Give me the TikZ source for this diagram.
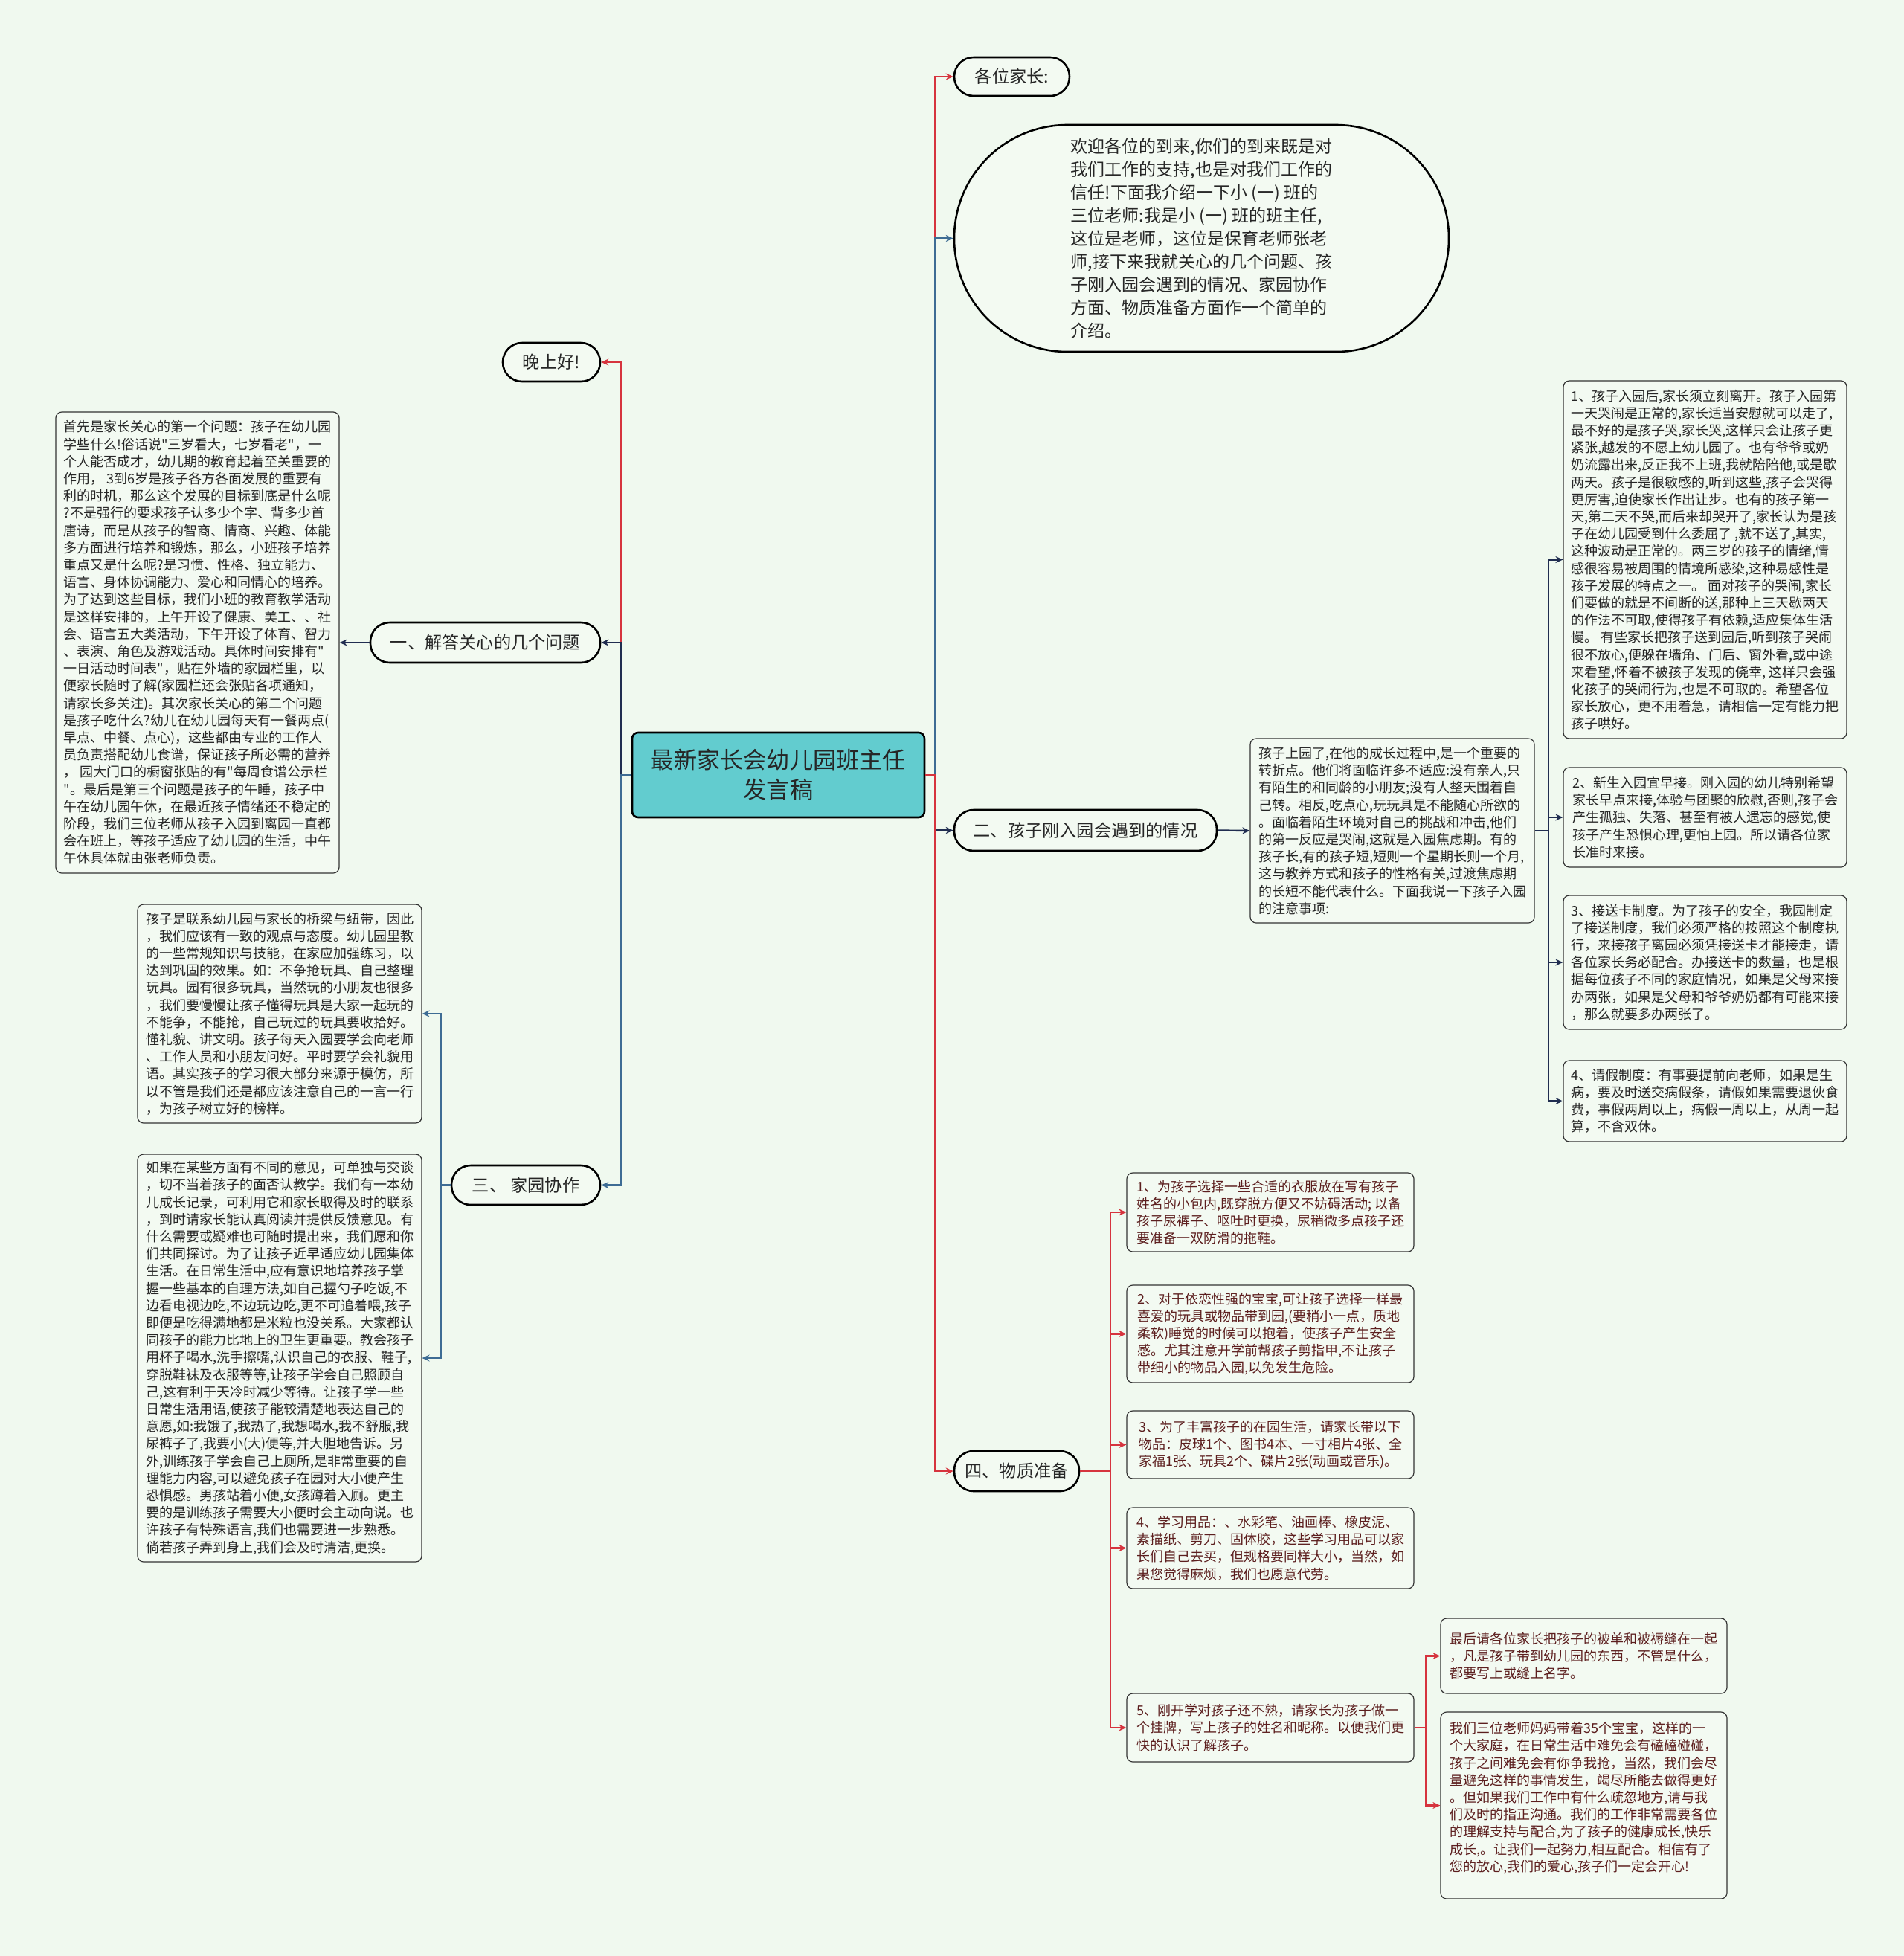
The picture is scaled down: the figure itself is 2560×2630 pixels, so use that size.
\documentclass[tikz,border=0pt]{standalone}
\usepackage{fontspec}
\newfontfamily\cjk{Noto Sans CJK SC}
\usetikzlibrary{arrows.meta}
\definecolor{bgc}{RGB}{240,249,239}
\definecolor{boxfill}{RGB}{243,250,242}
\definecolor{cred}{RGB}{214,52,62}
\definecolor{cnavy}{RGB}{32,45,80}
\definecolor{cblue}{RGB}{62,108,148}
\definecolor{ctitle}{RGB}{98,204,207}
\definecolor{cmaroon}{RGB}{92,30,30}
\begin{document}
\begin{tikzpicture}[x=0.5pt,y=-0.5pt,
  pill/.style={draw=black, line width=1.3pt, fill=boxfill, rounded corners=13pt, inner sep=0pt, align=center, text=black!85, font=\cjk\fontsize{11.6}{15}\selectfont},
  tbox/.style={draw=black!80, line width=0.6pt, fill=boxfill, rounded corners=4pt, inner sep=0pt, align=left, text=black!85, font=\cjk\fontsize{9}{11.6}\selectfont},
  mbox/.style={tbox, text=cmaroon},
  conn/.style={line width=1.2pt, -{Stealth[length=5pt,width=4.5pt]}}
]
\useasboundingbox (0,0) rectangle (2560,2630);
\fill[bgc] (0,0) rectangle (2560,2630);

% center
\node[draw=black, line width=1.3pt, fill=ctitle, rounded corners=4pt, minimum width=196.5pt, minimum height=57pt, align=center, inner sep=0pt, text=black!85, font=\cjk\fontsize{15.6}{20}\selectfont] (c) at (1046.5,1042) {最新家长会幼儿园班主任\\发言稿};

% first-level
\node[pill, minimum width=65.5pt, minimum height=26pt] (wan) at (741.5,487) {晚上好!};
\node[pill, minimum width=154.5pt, minimum height=27pt] (q1) at (652.5,864) {一、解答关心的几个问题};
\node[pill, minimum width=100pt, minimum height=26.5pt] (q3) at (707,1593.5) {三、 家园协作};
\node[pill, minimum width=77.5pt, minimum height=26pt] (gw) at (1360.5,103) {各位家长:};
\node[pill, rounded corners=76pt, minimum width=332.5pt, minimum height=152.5pt, align=left, font=\cjk\fontsize{11.5}{15.5}\selectfont] (ov) at (1615.5,320.5) {欢迎各位的到来,你们的到来既是对\\我们工作的支持,也是对我们工作的\\信任!下面我介绍一下小 (一) 班的\\三位老师:我是小 (一) 班的班主任,\\这位是老师，这位是保育老师张老\\师,接下来我就关心的几个问题、孩\\子刚入园会遇到的情况、家园协作\\方面、物质准备方面作一个简单的\\介绍。};
\node[pill, minimum width=176.5pt, minimum height=27.5pt] (q2) at (1459.5,1116.5) {二、孩子刚入园会遇到的情况};
\node[pill, minimum width=84pt, minimum height=27pt] (q4) at (1367,1978) {四、物质准备};

% left text boxes
\node[tbox, minimum width=190.5pt, minimum height=310pt] (L1) at (265.5,864) {首先是家长关心的第一个问题：孩子在幼儿园\\学些什么!俗话说"三岁看大，七岁看老"，一\\个人能否成才，幼儿期的教育起着至关重要的\\作用， 3到6岁是孩子各方各面发展的重要有\\利的时机，那么这个发展的目标到底是什么呢\\?不是强行的要求孩子认多少个字、背多少首\\唐诗，而是从孩子的智商、情商、兴趣、体能\\多方面进行培养和锻炼，那么，小班孩子培养\\重点又是什么呢?是习惯、性格、独立能力、\\语言、身体协调能力、爱心和同情心的培养。\\为了达到这些目标，我们小班的教育教学活动\\是这样安排的，上午开设了健康、美工、、社\\会、语言五大类活动，下午开设了体育、智力\\、表演、角色及游戏活动。具体时间安排有"\\一日活动时间表"，贴在外墙的家园栏里，以\\便家长随时了解(家园栏还会张贴各项通知，\\请家长多关注)。其次家长关心的第二个问题\\是孩子吃什么?幼儿在幼儿园每天有一餐两点(\\早点、中餐、点心)，这些都由专业的工作人\\员负责搭配幼儿食谱，保证孩子所必需的营养\\， 园大门口的橱窗张贴的有"每周食谱公示栏\\"。最后是第三个问题是孩子的午睡，孩子中\\午在幼儿园午休，在最近孩子情绪还不稳定的\\阶段，我们三位老师从孩子入园到离园一直都\\会在班上，等孩子适应了幼儿园的生活，中午\\午休具体就由张老师负责。};
\node[tbox, minimum width=191pt, minimum height=147pt] (L2) at (376,1363) {孩子是联系幼儿园与家长的桥梁与纽带，因此\\，我们应该有一致的观点与态度。幼儿园里教\\的一些常规知识与技能，在家应加强练习，以\\达到巩固的效果。如：不争抢玩具、自己整理\\玩具。园有很多玩具，当然玩的小朋友也很多\\，我们要慢慢让孩子懂得玩具是大家一起玩的\\不能争，不能抢，自己玩过的玩具要收拾好。\\懂礼貌、讲文明。孩子每天入园要学会向老师\\、工作人员和小朋友问好。平时要学会礼貌用\\语。其实孩子的学习很大部分来源于模仿，所\\以不管是我们还是都应该注意自己的一言一行\\，为孩子树立好的榜样。};
\node[tbox, minimum width=191pt, minimum height=274pt] (L3) at (376,1826) {如果在某些方面有不同的意见，可单独与交谈\\，切不当着孩子的面否认教学。我们有一本幼\\儿成长记录，可利用它和家长取得及时的联系\\，到时请家长能认真阅读并提供反馈意见。有\\什么需要或疑难也可随时提出来，我们愿和你\\们共同探讨。为了让孩子近早适应幼儿园集体\\生活。在日常生活中,应有意识地培养孩子掌\\握一些基本的自理方法,如自己握勺子吃饭,不\\边看电视边吃,不边玩边吃,更不可追着喂,孩子\\即便是吃得满地都是米粒也没关系。大家都认\\同孩子的能力比地上的卫生更重要。教会孩子\\用杯子喝水,洗手擦嘴,认识自己的衣服、鞋子,\\穿脱鞋袜及衣服等等,让孩子学会自己照顾自\\己,这有利于天冷时减少等待。让孩子学一些\\日常生活用语,使孩子能较清楚地表达自己的\\意愿,如:我饿了,我热了,我想喝水,我不舒服,我\\尿裤子了,我要小(大)便等,并大胆地告诉。另\\外,训练孩子学会自己上厕所,是非常重要的自\\理能力内容,可以避免孩子在园对大小便产生\\恐惧感。男孩站着小便,女孩蹲着入厕。更主\\要的是训练孩子需要大小便时会主动向说。也\\许孩子有特殊语言,我们也需要进一步熟悉。\\倘若孩子弄到身上,我们会及时清洁,更换。};

% right text boxes
\node[tbox, minimum width=191pt, minimum height=124pt] (M) at (1872,1117) {孩子上园了,在他的成长过程中,是一个重要的\\转折点。他们将面临许多不适应:没有亲人,只\\有陌生的和同龄的小朋友;没有人整天围着自\\己转。相反,吃点心,玩玩具是不能随心所欲的\\。面临着陌生环境对自己的挑战和冲击,他们\\的第一反应是哭闹,这就是入园焦虑期。有的\\孩子长,有的孩子短,短则一个星期长则一个月,\\这与教养方式和孩子的性格有关,过渡焦虑期\\的长短不能代表什么。下面我说一下孩子入园\\的注意事项:};
\node[tbox, minimum width=190.5pt, minimum height=240.5pt] (R1) at (2292.5,752.5) {1、孩子入园后,家长须立刻离开。孩子入园第\\一天哭闹是正常的,家长适当安慰就可以走了,\\最不好的是孩子哭,家长哭,这样只会让孩子更\\紧张,越发的不愿上幼儿园了。也有爷爷或奶\\奶流露出来,反正我不上班,我就陪陪他,或是歇\\两天。孩子是很敏感的,听到这些,孩子会哭得\\更厉害,迫使家长作出让步。也有的孩子第一\\天,第二天不哭,而后来却哭开了,家长认为是孩\\子在幼儿园受到什么委屈了 ,就不送了,其实,\\这种波动是正常的。两三岁的孩子的情绪,情\\感很容易被周围的情境所感染,这种易感性是\\孩子发展的特点之一。 面对孩子的哭闹,家长\\们要做的就是不间断的送,那种上三天歇两天\\的作法不可取,使得孩子有依赖,适应集体生活\\慢。 有些家长把孩子送到园后,听到孩子哭闹\\很不放心,便躲在墙角、门后、窗外看,或中途\\来看望,怀着不被孩子发现的侥幸, 这样只会强\\化孩子的哭闹行为,也是不可取的。希望各位\\家长放心，更不用着急，请相信一定有能力把\\孩子哄好。};
\node[tbox, minimum width=190.5pt, minimum height=67pt] (R2) at (2292.5,1099) {2、新生入园宜早接。刚入园的幼儿特别希望\\家长早点来接,体验与团聚的欣慰,否则,孩子会\\产生孤独、失落、甚至有被人遗忘的感觉,使\\孩子产生恐惧心理,更怕上园。所以请各位家\\长准时来接。};
\node[tbox, minimum width=190.5pt, minimum height=90pt] (R3) at (2292.5,1294) {3、接送卡制度。为了孩子的安全，我园制定\\了接送制度，我们必须严格的按照这个制度执\\行，来接孩子离园必须凭接送卡才能接走，请\\各位家长务必配合。办接送卡的数量，也是根\\据每位孩子不同的家庭情况，如果是父母来接\\办两张，如果是父母和爷爷奶奶都有可能来接\\，那么就要多办两张了。};
\node[tbox, minimum width=190.5pt, minimum height=54.5pt] (R4) at (2292.5,1480.5) {4、请假制度：有事要提前向老师，如果是生\\病，要及时送交病假条，请假如果需要退伙食\\费，事假两周以上，病假一周以上，从周一起\\算，不含双休。};

\node[mbox, minimum width=193pt, minimum height=53pt] (S1) at (1708,1630) {1、为孩子选择一些合适的衣服放在写有孩子\\姓名的小包内,既穿脱方便又不妨碍活动; 以备\\孩子尿裤子、呕吐时更换，尿稍微多点孩子还\\要准备一双防滑的拖鞋。};
\node[mbox, minimum width=193pt, minimum height=65.5pt] (S2) at (1708,1793.5) {2、对于依恋性强的宝宝,可让孩子选择一样最\\喜爱的玩具或物品带到园,(要稍小一点，质地\\柔软)睡觉的时候可以抱着，使孩子产生安全\\感。尤其注意开学前帮孩子剪指甲,不让孩子\\带细小的物品入园,以免发生危险。};
\node[mbox, minimum width=193pt, minimum height=45.5pt] (S3) at (1708,1942.5) {3、为了丰富孩子的在园生活，请家长带以下\\物品：皮球1个、图书4本、一寸相片4张、全\\家福1张、玩具2个、碟片2张(动画或音乐)。};
\node[mbox, minimum width=193pt, minimum height=54.5pt] (S4) at (1708,2081.5) {4、学习用品：、水彩笔、油画棒、橡皮泥、\\素描纸、剪刀、固体胶，这些学习用品可以家\\长们自己去买，但规格要同样大小，当然，如\\果您觉得麻烦，我们也愿意代劳。};
\node[mbox, minimum width=193pt, minimum height=46pt] (S5) at (1708,2323) {5、刚开学对孩子还不熟，请家长为孩子做一\\个挂牌，写上孩子的姓名和昵称。以便我们更\\快的认识了解孩子。};
\node[mbox, minimum width=192.5pt, minimum height=50.5pt] (T1) at (2129.5,2226.5) {最后请各位家长把孩子的被单和被褥缝在一起\\，凡是孩子带到幼儿园的东西，不管是什么，\\都要写上或缝上名字。};
\node[mbox, minimum width=192.5pt, minimum height=125.5pt] (T2) at (2129.5,2427.5) {我们三位老师妈妈带着35个宝宝，这样的一\\个大家庭，在日常生活中难免会有磕磕碰碰，\\孩子之间难免会有你争我抢，当然，我们会尽\\量避免这样的事情发生，竭尽所能去做得更好\\。但如果我们工作中有什么疏忽地方,请与我\\们及时的指正沟通。我们的工作非常需要各位\\的理解支持与配合,为了孩子的健康成长,快乐\\成长,。让我们一起努力,相互配合。相信有了\\您的放心,我们的爱心,孩子们一定会开心!\\ \mbox{}};

% trunks
\coordinate (tl) at (834.5,1042);
\coordinate (tr) at (1257.5,1042);
\coordinate (t3) at (593,1593.5);
\coordinate (tm) at (2082,1117);
\coordinate (t4) at (1493,1978);
\coordinate (t5) at (1917,2323);

% left connectors
\draw[conn,cred] (c.west) -- (tl) |- (wan.east);
\draw[conn,cnavy] (c.west) -- (tl) |- (q1.east);
\draw[conn,cblue] (c.west) -- (tl) |- (q3.east);
\draw[conn,cnavy] (q1.west) -- (L1.east);
\draw[conn,cblue] (q3.west) -- (t3) |- (L2.east);
\draw[conn,cblue] (t3) |- (L3.east);

% right connectors
\draw[conn,cred] (c.east) -- (tr) |- (gw.west);
\draw[conn,cblue] (c.east) -- (tr) |- (ov.west);
\draw[conn,cnavy] (c.east) -- (tr) |- (q2.west);
\draw[conn,cred] (c.east) -- (tr) |- (q4.west);
\draw[conn,cnavy] (q2.east) -- (M.west);
\draw[conn,cnavy] (M.east) -- (tm) |- (R1.west);
\draw[conn,cnavy] (tm) |- (R2.west);
\draw[conn,cnavy] (tm) |- (R3.west);
\draw[conn,cnavy] (tm) |- (R4.west);
\draw[conn,cred] (q4.east) -- (t4) |- (S1.west);
\draw[conn,cred] (t4) |- (S2.west);
\draw[conn,cred] (t4) |- (S3.west);
\draw[conn,cred] (t4) |- (S4.west);
\draw[conn,cred] (t4) |- (S5.west);
\draw[conn,cred] (S5.east) -- (t5) |- (T1.west);
\draw[conn,cred] (t5) |- (T2.west);
\end{tikzpicture}
\end{document}
